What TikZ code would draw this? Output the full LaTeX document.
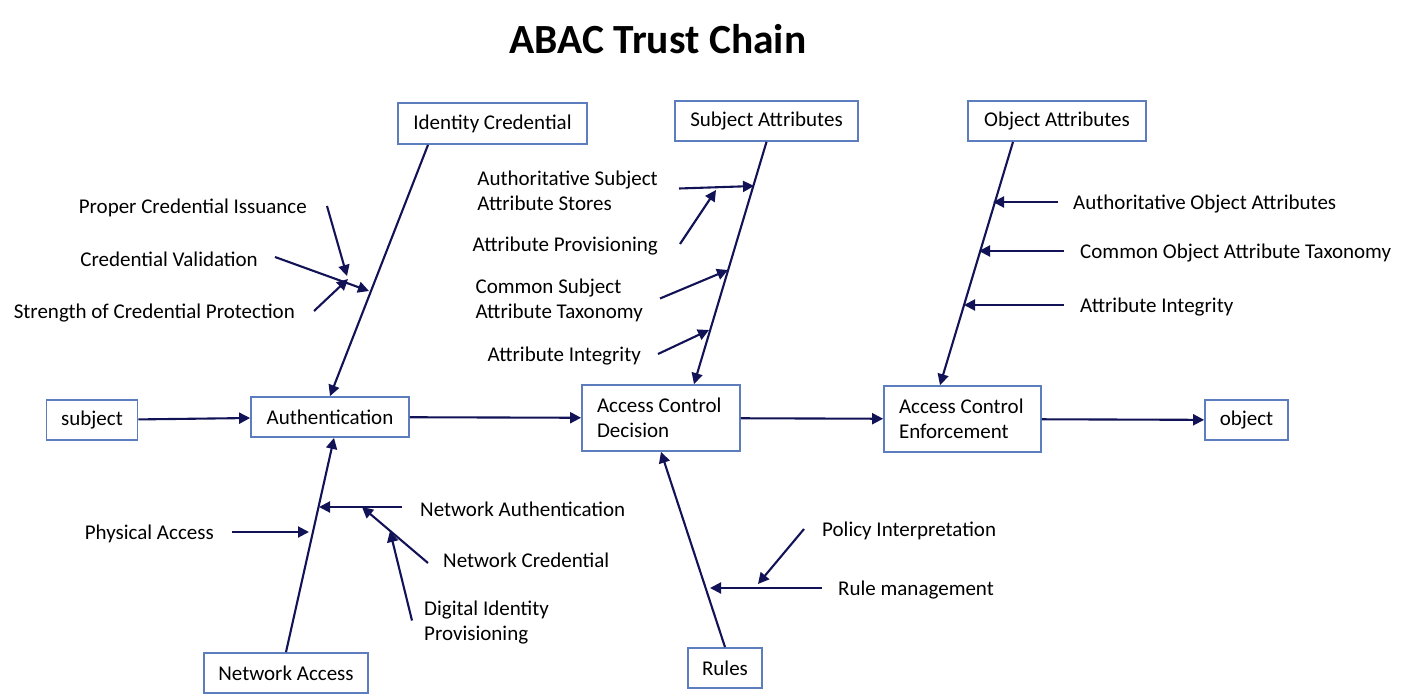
\documentclass[tikz,border=0pt]{standalone}
\usepackage{fontspec}
\setmainfont{Carlito}
\usetikzlibrary{arrows.meta}
\definecolor{boxblue}{RGB}{92,126,190}
\definecolor{navy}{RGB}{18,18,86}

\begin{document}
\begin{tikzpicture}[x=1pt, y=-1pt,
    box/.style={rectangle, draw=boxblue, line width=1.8pt, minimum height=40pt, inner sep=0pt, font=\fontsize{21}{25}\selectfont},
    box2/.style={box, minimum height=66pt, inner xsep=15pt, text width=128pt, align=flush left},
    lbl/.style={inner sep=0pt, align=flush left, yshift=-2pt, font=\fontsize{21}{25}\selectfont},
    arr/.style={navy, line width=2.1pt, -{Triangle[length=11pt,width=11pt]}},
]
\useasboundingbox (0,0) rectangle (1411,699);

% Заголовок
\node[font=\bfseries\fontsize{41.5}{48}\selectfont] (title) at (658,39) {ABAC Trust Chain};

% Основная цепочка
\node[box, minimum width=91pt] (subject) at (92,420) {subject};
\node[box, minimum width=158pt] (auth) at (330,417) {Authentication};
\node[box2] (acd) at (661,418) {Access Control\\Decision};
\node[box2, text width=127pt] (ace) at (962.5,419) {Access Control\\Enforcement};
\node[box, minimum width=83pt] (object) at (1246.5,420) {object};

% Блоки-причины
\node[box, minimum width=189pt, minimum height=41pt] (idcred) at (492.5,123.5) {Identity Credential};
\node[box, minimum width=183pt] (subjattr) at (766.5,121) {Subject Attributes};
\node[box, minimum width=178pt] (objattr) at (1057,121) {Object Attributes};
\node[box, minimum width=164pt] (netacc) at (286,673) {Network Access};
\node[box, minimum width=74pt] (rules) at (725,668) {Rules};

% Подписи: идентификатор
\node[lbl, anchor=east] (pci) at (307,206) {Proper Credential Issuance};
\node[lbl, anchor=east] (cv) at (258,257) {Credential Validation};
\node[lbl, anchor=east] (scp) at (295,311) {Strength of Credential Protection};

% Подписи: атрибуты субъекта
\node[lbl, anchor=east] (asas) at (658,188.5) {Authoritative Subject\\Attribute Stores};
\node[lbl, anchor=east] (ap) at (658,244) {Attribute Provisioning};
\node[lbl, anchor=east] (csat) at (643,298.5) {Common Subject\\Attribute Taxonomy};
\node[lbl, anchor=east] (ai1) at (641,354) {Attribute Integrity};

% Подписи: атрибуты объекта
\node[lbl, anchor=west] (aoa) at (1073,202) {Authoritative Object Attributes};
\node[lbl, anchor=west] (coat) at (1080,251) {Common Object Attribute Taxonomy};
\node[lbl, anchor=west] (ai2) at (1080,305) {Attribute Integrity};

% Подписи: сетевой доступ
\node[lbl, anchor=east] (pa) at (214,532) {Physical Access};
\node[lbl, anchor=west] (na) at (420,507) {Network Authentication};
\node[lbl, anchor=west] (nc) at (443,558) {Network Credential};
\node[lbl, anchor=west] (dip) at (424,620.5) {Digital Identity\\Provisioning};

% Подписи: правила
\node[lbl, anchor=west] (pi) at (822,529) {Policy Interpretation};
\node[lbl, anchor=west] (rm) at (838,588) {Rule management};

% Концы стрелок на линиях
\coordinate (pci-h) at (347,276);
\coordinate (cv-h) at (369,291);
\coordinate (scp-h) at (348,279);
\coordinate (asas-h) at (754,186);
\coordinate (ap-h) at (716,190);
\coordinate (csat-h) at (728,270);
\coordinate (ai1-h) at (709,330);
\coordinate (aoa-h) at (993,202);
\coordinate (coat-h) at (979,251);
\coordinate (ai2-h) at (964,305);
\coordinate (pa-h) at (309,532);
\coordinate (na-h) at (319,507);
\coordinate (nc-h) at (362,507);
\coordinate (dip-h) at (390,531);
\coordinate (pi-h) at (758,584);
\coordinate (rm-h) at (710,588);

% Рёбра основной цепочки
\draw[arr] (subject) -- (auth);
\draw[arr] (auth) -- (acd);
\draw[arr] (acd) -- (ace);
\draw[arr] (ace) -- (object);

% Рёбра от причин
\draw[arr] ([xshift=-64.5pt]idcred.south) -- (auth.north);
\draw[arr] (subjattr.south) -- ([xshift=33pt]acd.north);
\draw[arr] ([xshift=-44pt]objattr.south) -- ([xshift=-22.5pt]ace.north);
\draw[arr] (netacc.north) -- ([xshift=4pt]auth.south);
\draw[arr] (rules.north) -- (acd.south);

% Малые стрелки
\draw[arr] ([xshift=20pt,yshift=2pt]pci.east) -- (pci-h);
\draw[arr] ([xshift=17pt,yshift=2pt]cv.east) -- (cv-h);
\draw[arr] ([xshift=19pt,yshift=2pt]scp.east) -- (scp-h);
\draw[arr] ([xshift=21pt,yshift=2pt]asas.east) -- (asas-h);
\draw[arr] ([xshift=22pt,yshift=2pt]ap.east) -- (ap-h);
\draw[arr] ([xshift=17pt,yshift=2pt]csat.east) -- (csat-h);
\draw[arr] ([xshift=17pt,yshift=2pt]ai1.east) -- (ai1-h);
\draw[arr] ([xshift=-15pt,yshift=2pt]aoa.west) -- (aoa-h);
\draw[arr] ([xshift=-16pt,yshift=2pt]coat.west) -- (coat-h);
\draw[arr] ([xshift=-16pt,yshift=2pt]ai2.west) -- (ai2-h);
\draw[arr] ([xshift=18pt,yshift=2pt]pa.east) -- (pa-h);
\draw[arr] ([xshift=-18pt,yshift=2pt]na.west) -- (na-h);
\draw[arr] ([xshift=-15pt,yshift=-3pt]nc.west) -- (nc-h);
\draw[arr] ([xshift=-12pt,yshift=2pt]dip.west) -- (dip-h);
\draw[arr] ([xshift=-18pt,yshift=2pt]pi.west) -- (pi-h);
\draw[arr] ([xshift=-16pt,yshift=2pt]rm.west) -- (rm-h);

\end{tikzpicture}
\end{document}
